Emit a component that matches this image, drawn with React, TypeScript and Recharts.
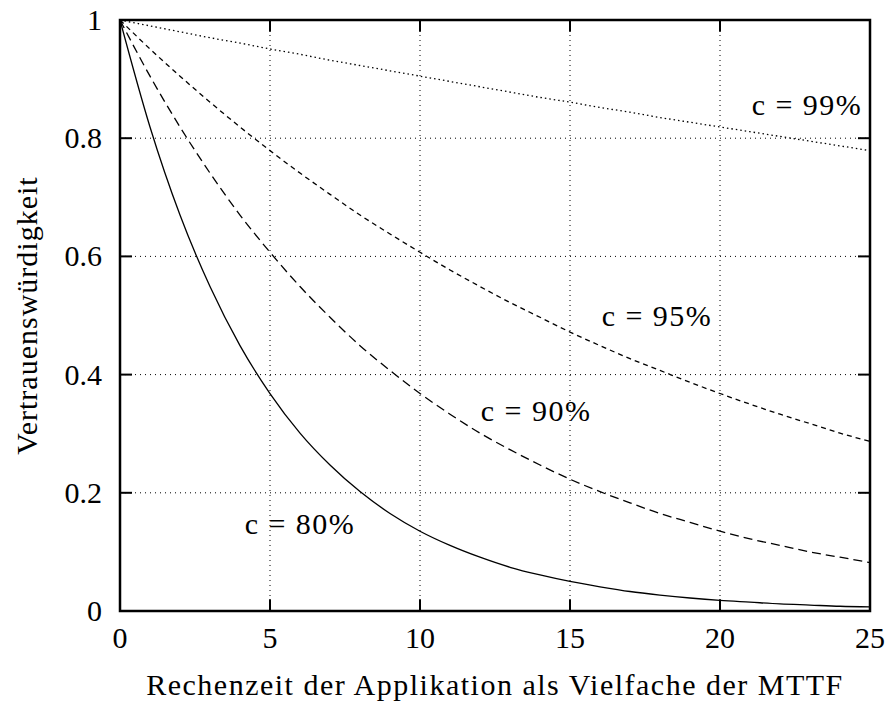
import React from "react";
import {
  LineChart,
  Line,
  XAxis,
  YAxis,
  CartesianGrid,
  ReferenceArea,
  ReferenceLine,
  ReferenceDot,
} from "recharts";

const times = [0, 1, 2, 3, 4, 5, 6, 7, 8, 9, 10, 11, 12, 13, 14, 15, 16, 17, 18, 19, 20, 21, 22, 23, 24, 25];
const c80 = [1, 0.819, 0.67, 0.549, 0.449, 0.368, 0.301, 0.247, 0.202, 0.165, 0.135, 0.111, 0.091, 0.074, 0.061, 0.05, 0.041, 0.033, 0.027, 0.022, 0.018, 0.015, 0.012, 0.01, 0.008, 0.007];
const c90 = [1, 0.905, 0.819, 0.741, 0.67, 0.607, 0.549, 0.497, 0.449, 0.407, 0.368, 0.333, 0.301, 0.273, 0.247, 0.223, 0.202, 0.183, 0.165, 0.15, 0.135, 0.122, 0.111, 0.1, 0.091, 0.082];
const c95 = [1, 0.951, 0.905, 0.861, 0.819, 0.779, 0.741, 0.705, 0.67, 0.638, 0.607, 0.577, 0.549, 0.522, 0.497, 0.472, 0.449, 0.427, 0.407, 0.387, 0.368, 0.35, 0.333, 0.317, 0.301, 0.287];
const c99 = [1, 0.99, 0.98, 0.97, 0.961, 0.951, 0.942, 0.932, 0.923, 0.914, 0.905, 0.896, 0.887, 0.878, 0.869, 0.861, 0.852, 0.844, 0.835, 0.827, 0.819, 0.811, 0.803, 0.795, 0.787, 0.779];

const xTicks = [0, 5, 10, 15, 20, 25];
const yTicks = [0, 0.2, 0.4, 0.6, 0.8, 1];
const yTickLabels = ["0", "0.2", "0.4", "0.6", "0.8", "1"];

const curveLabels = [
  { text: "c = 99%", x: 22.9, y: 0.858 },
  { text: "c = 95%", x: 17.9, y: 0.501 },
  { text: "c = 90%", x: 13.87, y: 0.34 },
  { text: "c = 80%", x: 6.0, y: 0.149 },
];

const xLabel = "Rechenzeit der Applikation als Vielfache der MTTF";
const yLabel = "Vertrauenswürdigkeit";

const data = times.map((t, i) => ({ t, c80: c80[i], c90: c90[i], c95: c95[i], c99: c99[i] }));

const FONT = "'Liberation Serif', 'DejaVu Serif', serif";
const FS = 30;

const XTick = (props: any) => {
  const { x, y, payload } = props;
  return (
    <text x={x} y={y} dy={25} textAnchor="middle" fontFamily={FONT} fontSize={FS} fill="#000">
      {payload.value}
    </text>
  );
};

const YTick = (props: any) => {
  const { x, y, payload } = props;
  const idx = yTicks.indexOf(payload.value);
  return (
    <text x={x - 6} y={y} dy={10} textAnchor="end" fontFamily={FONT} fontSize={FS} fill="#000">
      {idx >= 0 ? yTickLabels[idx] : payload.value}
    </text>
  );
};

const xTickLen = 0.4;
const yTickLen = 0.02;

export default function App() {
  return (
    <div style={{ position: "absolute", left: 0, top: 0, background: "#fff" }}>
      <LineChart
        width={886}
        height={707}
        data={data}
        margin={{ top: 20, right: 16, left: 60, bottom: 56 }}
      >
        <CartesianGrid stroke="#000" strokeWidth={1} strokeDasharray="1 4" />
        <XAxis
          type="number"
          dataKey="t"
          domain={[0, 25]}
          ticks={xTicks}
          axisLine={false}
          tickLine={false}
          tickSize={12}
          tickMargin={0}
          height={40}
          tick={<XTick />}
          label={{ value: xLabel, position: "insideBottom", offset: -44, fontFamily: FONT, fontSize: FS, fill: "#000", letterSpacing: 1.5 }}
        />
        <YAxis
          type="number"
          domain={[0, 1]}
          ticks={yTicks}
          axisLine={false}
          tickLine={false}
          tickSize={12}
          tickMargin={0}
          width={60}
          tick={<YTick />}
          label={{ value: yLabel, angle: -90, position: "insideLeft", offset: -34, fontFamily: FONT, fontSize: FS, fill: "#000", letterSpacing: 1, style: { textAnchor: "middle" } }}
        />
        {xTicks.map((v) => (
          <ReferenceLine key={"xb" + v} segment={[{ x: v, y: 0 }, { x: v, y: yTickLen }]} stroke="#000" strokeWidth={2} />
        ))}
        {xTicks.map((v) => (
          <ReferenceLine key={"xt" + v} segment={[{ x: v, y: 1 }, { x: v, y: 1 - yTickLen }]} stroke="#000" strokeWidth={2} />
        ))}
        {yTicks.map((v) => (
          <ReferenceLine key={"yl" + v} segment={[{ x: 0, y: v }, { x: xTickLen, y: v }]} stroke="#000" strokeWidth={2} />
        ))}
        {yTicks.map((v) => (
          <ReferenceLine key={"yr" + v} segment={[{ x: 25, y: v }, { x: 25 - xTickLen, y: v }]} stroke="#000" strokeWidth={2} />
        ))}
        <Line type="monotone" dataKey="c80" stroke="#000" strokeWidth={1.3} dot={false} isAnimationActive={false} />
        <Line type="monotone" dataKey="c90" stroke="#000" strokeWidth={1.3} strokeDasharray="9 5" dot={false} isAnimationActive={false} />
        <Line type="monotone" dataKey="c95" stroke="#000" strokeWidth={1.3} strokeDasharray="5 4" dot={false} isAnimationActive={false} />
        <Line type="monotone" dataKey="c99" stroke="#000" strokeWidth={1.3} strokeDasharray="1.5 3" dot={false} isAnimationActive={false} />
        <ReferenceArea x1={0} x2={25} y1={0} y2={1} fill="none" stroke="#000" strokeWidth={2.5} ifOverflow="visible" />
        {curveLabels.map((l) => (
          <ReferenceDot
            key={l.text}
            x={l.x}
            y={l.y}
            r={0}
            fill="none"
            stroke="none"
            label={{ value: l.text, position: "center", fontFamily: FONT, fontSize: FS, fill: "#000", letterSpacing: 1.5 }}
          />
        ))}
      </LineChart>
    </div>
  );
}
